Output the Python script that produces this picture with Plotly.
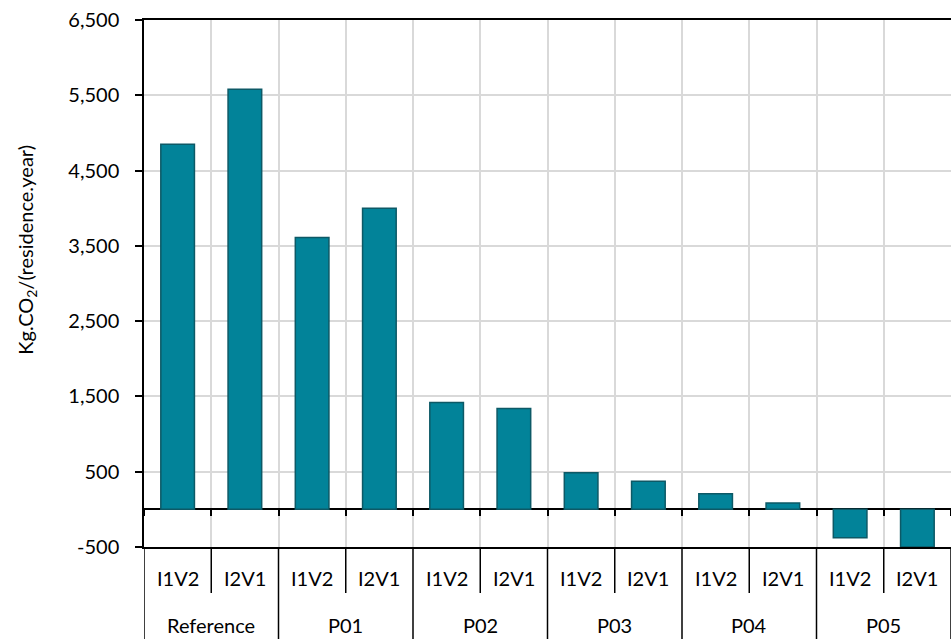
import plotly.graph_objects as go

groups = ["Reference", "P01", "P02", "P03", "P04", "P05"]
variants = ["I1V2", "I2V1"]
values = [4850, 5580, 3610, 4000, 1420, 1340, 487, 372, 208, 84, -376, -500]
y_ticks = [-500, 500, 1500, 2500, 3500, 4500, 5500, 6500]
y_title = "Kg.CO<sub>2</sub>/(residence.year)"

FONT = "Lato"
FS = 20
n = len(values)
xs = list(range(n))
boundaries = [i - 0.5 for i in range(n + 1)]
labels = [v for g in groups for v in variants]

fig = go.Figure()
fig.add_trace(go.Bar(
    x=xs, y=values, width=0.5,
    marker=dict(color="#028399", line=dict(color="#0d5966", width=1.5)),
    showlegend=False, hoverinfo="skip",
))
# invisible trace on secondary axis (zero-line ticks)
fig.add_trace(go.Scatter(x=[xs[0]], y=[0], xaxis="x2", mode="markers",
                         marker=dict(opacity=0, size=1), showlegend=False, hoverinfo="skip"))

fig.update_layout(
    width=951, height=639,
    margin=dict(l=144, r=0, t=20, b=92),
    paper_bgcolor="white", plot_bgcolor="white",
    font=dict(family=FONT, size=FS, color="#000000"),
    xaxis=dict(
        range=[boundaries[0], boundaries[-1]],
        tickmode="array", tickvals=boundaries, showticklabels=False, ticks="",
        showgrid=True, gridcolor="#d9d9d9", gridwidth=1.5,
        showline=True, linecolor="#000000", linewidth=1.5, mirror=True,
        zeroline=False,
    ),
    xaxis2=dict(
        overlaying="x", matches="x", anchor="free",
        position=(0 - y_ticks[0]) / (y_ticks[-1] - y_ticks[0]),
        tickmode="array", tickvals=boundaries, showticklabels=False,
        ticks="outside", ticklen=6, tickwidth=1.5, tickcolor="#000000",
        showgrid=False, showline=False, zeroline=False, side="bottom",
    ),
    yaxis=dict(
        range=[y_ticks[0], y_ticks[-1]],
        tickmode="array", tickvals=y_ticks, ticktext=[f"{v:,}" for v in y_ticks],
        ticks="outside", ticklen=7, tickwidth=1.5, tickcolor="#000000",
        ticklabelstandoff=12,
        showgrid=True, gridcolor="#d9d9d9", gridwidth=1.5,
        showline=True, linecolor="#000000", linewidth=1.5, mirror=False,
        zeroline=True, zerolinecolor="#000000", zerolinewidth=1.5,
    ),
)

ann = []
# y-axis title
ann.append(dict(text=y_title, xref="paper", yref="paper", x=-0.145, y=0.564,
                textangle=-90, showarrow=False, xanchor="center", yanchor="middle",
                font=dict(family=FONT, size=FS)))
# variant labels
for x, lab in zip(xs, labels):
    ann.append(dict(text=lab, xref="x", yref="paper", x=x, y=0, yshift=-31,
                    showarrow=False, xanchor="center", yanchor="middle",
                    font=dict(family=FONT, size=FS)))
# group labels
for gi, g in enumerate(groups):
    cx = gi * len(variants) + (len(variants) - 1) / 2
    ann.append(dict(text=g, xref="x", yref="paper", x=cx, y=0, yshift=-78,
                    showarrow=False, xanchor="center", yanchor="middle",
                    font=dict(family=FONT, size=FS)))
fig.update_layout(annotations=ann)

# divider lines in the category label area
shapes = []
for i, b in enumerate(boundaries):
    is_group = (i % len(variants) == 0)
    shapes.append(dict(type="line", xref="x", yref="paper", x0=b, x1=b,
                       y0=0, y1=(-95 / 527) if is_group else (-46 / 527),
                       line=dict(color="#000000", width=1.5), layer="above"))
fig.update_layout(shapes=shapes)

fig.write_html("out.html", config={"displayModeBar": False},
               post_script="document.body.style.margin='0';document.body.style.overflow='hidden';")
